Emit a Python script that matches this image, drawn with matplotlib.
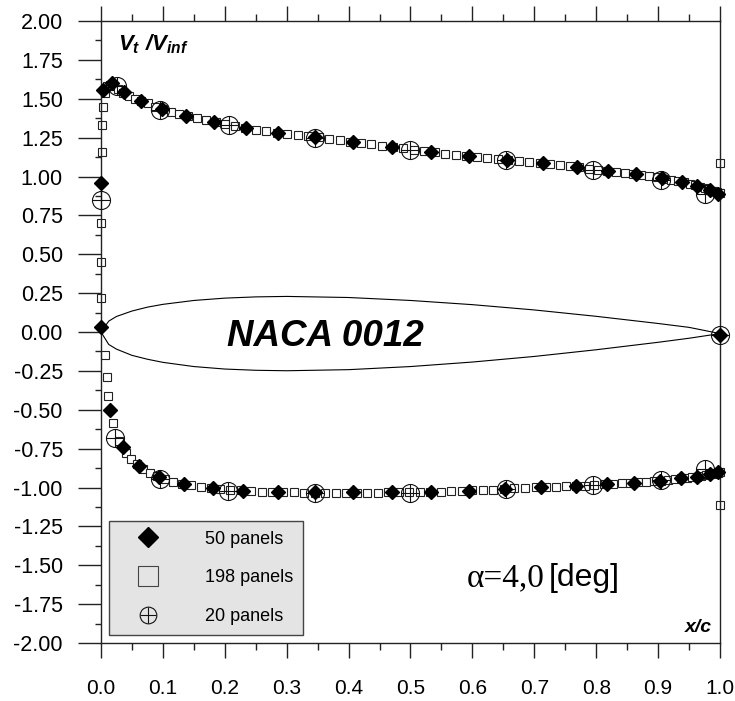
import matplotlib
matplotlib.use('Agg')
import matplotlib.pyplot as plt
from matplotlib.lines import Line2D
from matplotlib.ticker import MultipleLocator, FormatStrFormatter

plt.rcParams['font.family'] = ['Liberation Sans', 'DejaVu Sans']
plt.rcParams['axes.unicode_minus'] = False
plt.rcParams['mathtext.fontset'] = 'custom'
plt.rcParams['mathtext.it'] = 'Liberation Sans:italic:bold'
plt.rcParams['mathtext.rm'] = 'Liberation Sans:italic:bold'

# ---- 50 panels (filled diamonds) ----
p50_up_x = [0.0, 0.003, 0.018, 0.037, 0.065, 0.099, 0.137, 0.183, 0.234, 0.286, 0.346, 0.407,
            0.470, 0.533, 0.594, 0.656, 0.714, 0.769, 0.819, 0.864, 0.906, 0.939, 0.963, 0.984, 0.997]
p50_up_y = [0.96, 1.556, 1.60, 1.543, 1.486, 1.434, 1.389, 1.350, 1.312, 1.280, 1.254, 1.222,
            1.190, 1.158, 1.132, 1.106, 1.087, 1.061, 1.035, 1.016, 0.990, 0.965, 0.939, 0.913, 0.89]
p50_lo_x = [0.0, 0.015, 0.036, 0.061, 0.094, 0.134, 0.181, 0.229, 0.286, 0.346, 0.407, 0.470,
            0.533, 0.594, 0.653, 0.711, 0.767, 0.817, 0.861, 0.903, 0.937, 0.963, 0.984, 0.997, 1.0]
p50_lo_y = [0.03, -0.50, -0.74, -0.862, -0.932, -0.977, -1.003, -1.022, -1.029, -1.03, -1.03, -1.03,
            -1.028, -1.02, -1.01, -0.997, -0.99, -0.977, -0.97, -0.958, -0.939, -0.93, -0.913, -0.90, -0.02]

# ---- 198 panels (open squares) ----
p198_up_x = [0.000, 0.000, 0.0005, 0.001, 0.002, 0.003, 0.006, 0.010, 0.015, 0.021, 0.028, 0.036,
             0.045, 0.055, 0.065, 0.076, 0.088, 0.100, 0.113, 0.126, 0.140, 0.155, 0.170, 0.185,
             0.201, 0.217, 0.233, 0.250, 0.267, 0.284, 0.301, 0.318, 0.335, 0.352, 0.369, 0.386,
             0.403, 0.420, 0.437, 0.454, 0.471, 0.488, 0.505, 0.522, 0.539, 0.556, 0.573, 0.590,
             0.607, 0.624, 0.641, 0.658, 0.675, 0.692, 0.709, 0.725, 0.741, 0.757, 0.773, 0.788,
             0.803, 0.818, 0.832, 0.846, 0.860, 0.873, 0.886, 0.898, 0.910, 0.921, 0.932, 0.942,
             0.951, 0.960, 0.968, 0.975, 0.981, 0.987, 0.991, 0.995, 0.998, 1.000, 1.000]
p198_up_y = [0.22, 0.45, 0.70, 1.16, 1.33, 1.45, 1.54, 1.58, 1.59, 1.58, 1.56, 1.54,
             1.52, 1.50, 1.485, 1.47, 1.45, 1.433, 1.418, 1.40, 1.387, 1.374, 1.362, 1.349,
             1.337, 1.325, 1.313, 1.300, 1.291, 1.281, 1.273, 1.266, 1.259, 1.251, 1.242, 1.233,
             1.224, 1.215, 1.206, 1.198, 1.190, 1.181, 1.172, 1.163, 1.155, 1.148, 1.141, 1.134,
             1.127, 1.120, 1.113, 1.105, 1.099, 1.094, 1.089, 1.081, 1.074, 1.067, 1.059, 1.051,
             1.043, 1.036, 1.029, 1.023, 1.018, 1.010, 1.002, 0.995, 0.987, 0.979, 0.970, 0.962,
             0.953, 0.943, 0.933, 0.925, 0.917, 0.910, 0.905, 0.900, 0.897, 0.895, 1.09]
p198_lo_x = [0.006, 0.010, 0.012, 0.019, 0.029, 0.040, 0.049, 0.058, 0.068, 0.079, 0.091, 0.104,
             0.117, 0.131, 0.146, 0.161, 0.177, 0.193, 0.209, 0.226, 0.243, 0.260, 0.277, 0.294,
             0.311, 0.328, 0.345, 0.362, 0.379, 0.396, 0.413, 0.430, 0.447, 0.464, 0.481, 0.498,
             0.515, 0.532, 0.549, 0.566, 0.583, 0.600, 0.617, 0.634, 0.651, 0.668, 0.685, 0.702,
             0.719, 0.735, 0.751, 0.767, 0.782, 0.797, 0.812, 0.827, 0.841, 0.855, 0.868, 0.881,
             0.893, 0.905, 0.916, 0.927, 0.937, 0.946, 0.955, 0.963, 0.970, 0.977, 0.983, 0.988,
             0.992, 0.996, 0.998, 1.000, 1.000]
p198_lo_y = [-0.15, -0.29, -0.41, -0.585, -0.70, -0.775, -0.815, -0.85, -0.878, -0.905, -0.928, -0.947,
             -0.962, -0.975, -0.985, -0.994, -1.001, -1.008, -1.014, -1.019, -1.023, -1.026, -1.028, -1.030,
             -1.031, -1.032, -1.032, -1.032, -1.032, -1.032, -1.032, -1.032, -1.032, -1.031, -1.031, -1.030,
             -1.029, -1.028, -1.026, -1.024, -1.022, -1.019, -1.016, -1.013, -1.010, -1.006, -1.003, -0.999,
             -0.996, -0.994, -0.992, -0.990, -0.987, -0.984, -0.979, -0.975, -0.972, -0.970, -0.967, -0.963,
             -0.960, -0.956, -0.950, -0.944, -0.939, -0.936, -0.933, -0.930, -0.924, -0.918, -0.914, -0.910,
             -0.907, -0.904, -0.902, -0.900, -1.11]

# ---- 20 panels (circle with cross) ----
p20_x = [0.0, 0.026, 0.095, 0.207, 0.346, 0.50, 0.655, 0.795, 0.905, 0.975,
         0.023, 0.095, 0.205, 0.345, 0.50, 0.655, 0.795, 0.905, 0.975, 1.0]
p20_y = [0.85, 1.58, 1.43, 1.33, 1.25, 1.17, 1.105, 1.04, 0.98, 0.89,
         -0.68, -0.945, -1.02, -1.035, -1.035, -1.01, -0.985, -0.95, -0.88, -0.02]

# ---- airfoil outline (NACA 0012, drawn in the same axes) ----
af_x = [0.0, 0.0125, 0.025, 0.05, 0.075, 0.1, 0.15, 0.2, 0.25, 0.3, 0.4, 0.5, 0.6, 0.7, 0.8, 0.9, 0.95, 1.0]
af_up = [0.0, 0.07, 0.10, 0.135, 0.16, 0.178, 0.203, 0.218, 0.226, 0.229, 0.222, 0.203, 0.176, 0.142,
         0.101, 0.055, 0.03, -0.01]
af_lo = [0.0, -0.08, -0.11, -0.15, -0.175, -0.195, -0.222, -0.238, -0.246, -0.249, -0.242, -0.222,
         -0.193, -0.157, -0.114, -0.066, -0.04, -0.01]

labels = ['50 panels', '198 panels', '20 panels']

fig = plt.figure(figsize=(7.35, 7.01), dpi=100)
ax = fig.add_axes([0.1374, 0.0827, 0.8422, 0.8873])

ax.plot(af_x, af_up, color='k', lw=0.8, zorder=1)
ax.plot(af_x, af_lo, color='k', lw=0.8, zorder=1)

sq = dict(ls='none', marker='s', ms=6, mfc='white', mec='#222', mew=0.8, zorder=2, clip_on=False)
ax.plot(p198_up_x, p198_up_y, **sq)
ax.plot(p198_lo_x, p198_lo_y, **sq)
ax.plot(p20_x, p20_y, ls='none', marker='o', ms=13, mfc='none', mec='#111', mew=0.8, zorder=3, clip_on=False)
ax.plot(p20_x, p20_y, ls='none', marker='+', ms=13, mec='#111', mew=0.8, zorder=3, clip_on=False)
ax.plot(p50_up_x, p50_up_y, ls='none', marker='D', ms=7, color='k', zorder=4, clip_on=False)
ax.plot(p50_lo_x, p50_lo_y, ls='none', marker='D', ms=7, color='k', zorder=4, clip_on=False)

ax.set_xlim(0, 1)
ax.set_ylim(-2, 2)
ax.xaxis.set_major_locator(MultipleLocator(0.1))
ax.xaxis.set_minor_locator(MultipleLocator(0.05))
ax.yaxis.set_major_locator(MultipleLocator(0.25))
ax.yaxis.set_minor_locator(MultipleLocator(0.125))
ax.xaxis.set_major_formatter(FormatStrFormatter('%.1f'))
ax.yaxis.set_major_formatter(FormatStrFormatter('%.2f'))
ax.tick_params(axis='x', which='both', direction='out', top=True, bottom=True,
               labelsize=15, pad=15, width=1, color='#222')
ax.tick_params(axis='x', which='major', length=11)
ax.tick_params(axis='x', which='minor', length=5)
ax.tick_params(axis='y', which='both', direction='out', left=True, right=False,
               labelsize=15.5, pad=11, width=1, color='#222')
ax.tick_params(axis='y', which='major', length=16.5)
ax.tick_params(axis='y', which='minor', length=4.5)
for s in ax.spines.values():
    s.set_linewidth(1)
    s.set_color('#222')

ax.text(0.027, 1.85, r'$V_t\ /V_{inf}$', fontsize=16, va='center', ha='left')
ax.text(0.362, -0.03, 'NACA 0012', fontsize=26.5, fontweight='bold', fontstyle='italic',
        ha='center', va='center')
ax.text(0.987, -1.90, 'x/c', fontsize=14, fontweight='bold', fontstyle='italic',
        ha='right', va='center')
ax.text(0.716, -1.58, 'α=4,0', fontsize=24, family='Liberation Serif',
        ha='right', va='center')
ax.text(0.723, -1.58, '[deg]', fontsize=23, ha='left', va='center')

h50 = Line2D([], [], ls='none', marker='D', ms=10.5, color='k')
h198 = Line2D([], [], ls='none', marker='s', ms=15, mfc='none', mec='#444', mew=0.8)
h20a = Line2D([], [], ls='none', marker='o', ms=12, mfc='none', mec='#111', mew=0.8)
h20b = Line2D([], [], ls='none', marker='+', ms=12, mec='#111', mew=0.8)
leg = ax.legend([h50, h198, (h20a, h20b)], labels, loc='lower left',
                bbox_to_anchor=(0.013, 0.013), fontsize=13, frameon=True, fancybox=False,
                facecolor='#e4e4e4', edgecolor='#444', framealpha=1,
                borderpad=0.55, handlelength=3.2, handletextpad=1.55, labelspacing=1.2,
                borderaxespad=0)
leg.get_frame().set_linewidth(1)

fig.savefig('out.png', dpi=100)
